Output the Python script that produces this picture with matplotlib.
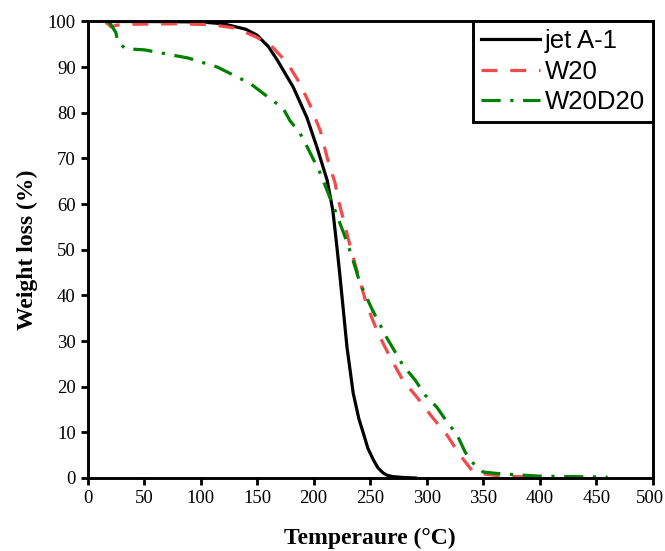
import numpy as np
import matplotlib.pyplot as plt
from matplotlib.transforms import ScaledTranslation

# TGA curves
t_jet = [20, 50, 100, 120, 140, 150, 160, 168, 182, 194, 203, 212, 217, 220, 223,
         226, 229.5, 235, 240, 244, 248, 253, 257, 261.5, 265, 270, 280, 290]
w_jet = [100, 100, 99.9, 99.5, 98.3, 97, 94.5, 91.5, 85.6, 79, 72.4, 65.2, 58.6, 52, 45,
         37.5, 28.7, 18.6, 13, 9.8, 6.5, 3.9, 2.2, 1.1, 0.6, 0.3, 0.1, 0]

t_w20 = [16, 18, 21, 26, 40, 80, 110, 132, 150, 164, 177, 188, 197, 206, 212, 219,
         222, 228, 234, 247, 257, 268, 279, 292, 305, 318, 329.5, 340, 347, 360, 380, 400]
w_w20 = [99.8, 99.5, 98.8, 99.2, 99.4, 99.5, 99.3, 98.5, 96.5, 94.3, 90.8, 86.4, 81.6, 76, 70.2, 64.6,
         60.8, 55, 49.2, 37.9, 31.7, 26.3, 21.4, 17.5, 13.3, 9.4, 5, 1.7, 1, 0.6, 0.3, 0.2]

t_w2d = [18, 20, 25, 27, 34, 50, 89, 115, 144, 162, 173, 179, 188, 195, 206, 213, 219,
         228, 234, 241, 252, 265, 279, 290, 298.5, 309, 318, 327, 334, 340, 350, 362,
         380, 400, 430, 460]
w_w2d = [100, 99.6, 97.6, 95.4, 94, 93.8, 92, 90, 86.4, 83, 81, 78.3, 75.5, 72.2, 66.7, 62.3, 58.6,
         52.7, 48.4, 42.7, 36.8, 30.6, 24.7, 21.4, 18.2, 15.5, 12.3, 9.4, 5.7, 3.5, 1.3, 1,
         0.7, 0.4, 0.3, 0.2]

xticks = np.arange(0, 501, 50)
yticks = np.arange(0, 101, 10)

fig = plt.figure(figsize=(6.65, 5.51), dpi=100)
ax = fig.add_axes([0.1316, 0.1325, 0.85, 0.8285])

ax.plot(t_jet, w_jet, color="black", lw=2.3, label="jet A-1")
ax.plot(t_w20, w_w20, color="#F24A4A", lw=2.3, dashes=(5, 4), label="W20")
ax.plot(t_w2d, w_w2d, color="#008000", lw=2.3, dashes=(6, 3, 1, 3), label="W20D20")

ax.set_xlim(0, 500)
ax.set_ylim(0, 100)
ax.set_xticks(xticks)
ax.set_yticks(yticks)
ax.tick_params(direction="out", width=2, length=5, labelsize=13.5)
for lab in ax.get_xticklabels() + ax.get_yticklabels():
    lab.set_fontfamily("Liberation Serif")
# keep the last x label inside the canvas
last = ax.get_xticklabels()[-1]
last.set_transform(last.get_transform() + ScaledTranslation(-3 / 100, 0, fig.dpi_scale_trans))
for s in ax.spines.values():
    s.set_linewidth(2.1)

ax.set_xlabel("Temperaure (°C)", fontfamily="Liberation Serif", fontweight="bold",
              fontsize=17, labelpad=15)
ax.set_ylabel("Weight loss (%)", fontfamily="Liberation Serif", fontweight="bold",
              fontsize=17, labelpad=7)

leg = ax.legend(loc="upper right", borderaxespad=0, fancybox=False,
                prop={"family": "Liberation Sans", "size": 18.5},
                handlelength=2.3, handletextpad=0.2, labelspacing=0.25,
                borderpad=0.3)
leg.get_frame().set_edgecolor("black")
leg.get_frame().set_linewidth(2.1)
leg.get_frame().set_alpha(1)

fig.savefig("out.png", dpi=100)
